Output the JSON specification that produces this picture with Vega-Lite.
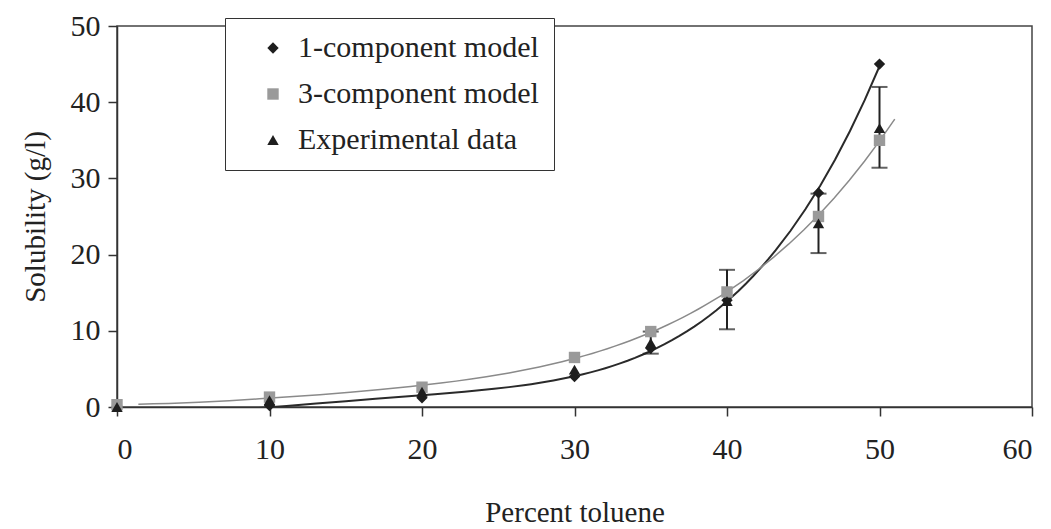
{
  "$schema": "https://vega.github.io/schema/vega-lite/v6.json",
  "width": 915,
  "height": 381,
  "autosize": {"type": "none"},
  "padding": {"left": 117, "top": 26, "right": 19, "bottom": 122},
  "background": "white",
  "config": {
    "view": {"stroke": "#444", "strokeWidth": 1.5},
    "font": "Liberation Serif",
    "axis": {
      "grid": false,
      "domainColor": "#333",
      "domainWidth": 1.5,
      "tickColor": "#333",
      "tickWidth": 1.5,
      "tickSize": 9,
      "labelFont": "Liberation Serif",
      "labelFontSize": 30,
      "labelColor": "#222",
      "titleFont": "Liberation Serif",
      "titleFontSize": 29,
      "titleFontWeight": "normal",
      "titleColor": "#222"
    },
    "legend": {
      "labelFont": "Liberation Serif",
      "labelFontSize": 30,
      "labelColor": "#222"
    }
  },
  "data": {
    "values": [
      {"pct": 0, "sol": 0.1, "series": "1-component model"},
      {"pct": 10, "sol": 0.2, "series": "1-component model"},
      {"pct": 20, "sol": 1.2, "series": "1-component model"},
      {"pct": 30, "sol": 4.0, "series": "1-component model"},
      {"pct": 35, "sol": 7.7, "series": "1-component model"},
      {"pct": 40, "sol": 14.0, "series": "1-component model"},
      {"pct": 46, "sol": 28.1, "series": "1-component model"},
      {"pct": 50, "sol": 45.0, "series": "1-component model"},
      {"pct": 0, "sol": 0.3, "series": "3-component model"},
      {"pct": 10, "sol": 1.3, "series": "3-component model"},
      {"pct": 20, "sol": 2.6, "series": "3-component model"},
      {"pct": 30, "sol": 6.5, "series": "3-component model"},
      {"pct": 35, "sol": 9.9, "series": "3-component model"},
      {"pct": 40, "sol": 15.1, "series": "3-component model"},
      {"pct": 46, "sol": 25.0, "series": "3-component model"},
      {"pct": 50, "sol": 35.0, "series": "3-component model"},
      {"pct": 0, "sol": 0.0, "series": "Experimental data"},
      {"pct": 10, "sol": 0.9, "series": "Experimental data"},
      {"pct": 20, "sol": 2.0, "series": "Experimental data"},
      {"pct": 30, "sol": 4.9, "series": "Experimental data"},
      {"pct": 35, "sol": 8.4, "series": "Experimental data", "lo": 7.0, "hi": 9.9},
      {"pct": 40, "sol": 13.9, "series": "Experimental data", "lo": 10.2, "hi": 18.0},
      {"pct": 46, "sol": 24.1, "series": "Experimental data", "lo": 20.2, "hi": 28.0},
      {"pct": 50, "sol": 36.6, "series": "Experimental data", "lo": 31.4, "hi": 42.0}
    ]
  },
  "encoding": {
    "x": {
      "field": "pct", "type": "quantitative", "title": "Percent toluene",
      "scale": {"domain": [0, 60], "nice": false, "zero": false},
      "axis": {"values": [0, 10, 20, 30, 40, 50, 60], "labelPadding": 18, "titlePadding": 34}
    },
    "y": {
      "field": "sol", "type": "quantitative", "title": "Solubility (g/l)",
      "scale": {"domain": [0, 50], "nice": false},
      "axis": {"values": [0, 10, 20, 30, 40, 50], "labelPadding": 8, "titlePadding": 20}
    }
  },
  "layer": [
    {
      "transform": [
        {"filter": "datum.series === '1-component model'"},
        {"regression": "sol", "on": "pct", "method": "poly", "order": 4, "extent": [1.4, 50]}
      ],
      "mark": {"type": "line", "color": "#2a2a2a", "strokeWidth": 2, "clip": true},
      "encoding": {}
    },
    {
      "transform": [
        {"filter": "datum.series === '3-component model'"},
        {"regression": "sol", "on": "pct", "method": "poly", "order": 4, "extent": [1.4, 51]}
      ],
      "mark": {"type": "line", "color": "#8a8a8a", "strokeWidth": 1.5, "clip": true},
      "encoding": {}
    },
    {
      "transform": [{"filter": "isValid(datum.lo)"}],
      "mark": {"type": "rule", "color": "#222", "strokeWidth": 2},
      "encoding": {
        "y": {"field": "lo", "type": "quantitative"},
        "y2": {"field": "hi"}
      }
    },
    {
      "transform": [{"filter": "isValid(datum.lo)"}],
      "mark": {"type": "point", "shape": "stroke", "size": 256, "filled": false, "color": "#222", "strokeWidth": 2},
      "encoding": {"y": {"field": "lo", "type": "quantitative"}}
    },
    {
      "transform": [{"filter": "isValid(datum.hi)"}],
      "mark": {"type": "point", "shape": "stroke", "size": 256, "filled": false, "color": "#222", "strokeWidth": 2},
      "encoding": {"y": {"field": "hi", "type": "quantitative"}}
    },
    {
      "mark": {"type": "point", "filled": true, "opacity": 1, "size": 130},
      "encoding": {
        "color": {
          "field": "series", "type": "nominal",
          "scale": {"domain": ["1-component model", "3-component model", "Experimental data"], "range": ["#1e1e1e", "#9a9a9a", "#1e1e1e"]},
          "legend": {
            "title": null,
            "orient": "none",
            "legendX": 108,
            "legendY": -8,
            "fillColor": "white",
            "strokeColor": "#333",
            "padding": 15,
            "rowPadding": 16,
            "symbolOffset": 18,
            "symbolSize": 130,
            "labelOffset": 10,
            "labelLimit": 400,
            "symbolOpacity": 1
          }
        },
        "shape": {
          "field": "series", "type": "nominal",
          "scale": {"domain": ["1-component model", "3-component model", "Experimental data"], "range": ["diamond", "square", "triangle-up"]},
          "legend": null
        }
      }
    }
  ]
}
